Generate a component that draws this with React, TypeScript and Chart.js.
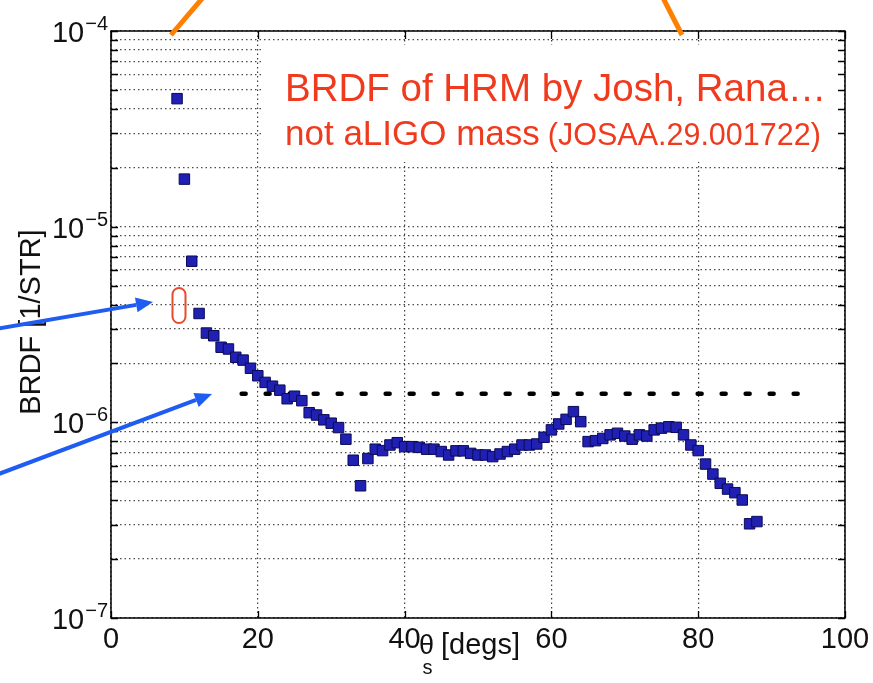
import React, { useEffect, useRef } from "react";
import { Chart, registerables } from "chart.js";

Chart.register(...registerables);

// ---- data ----
const angleDeg: number[] = [
  9, 10, 11, 12, 13, 14, 15, 16, 17, 18, 19, 20, 21, 22, 23, 24, 25, 26, 27, 28,
  29, 30, 31, 32, 33, 34, 35, 36, 37, 38, 39, 40, 41, 42, 43, 44, 45, 46, 47, 48,
  49, 50, 51, 52, 53, 54, 55, 56, 57, 58, 59, 60, 61, 62, 63, 64, 65, 66, 67, 68,
  69, 70, 71, 72, 73, 74, 75, 76, 77, 78, 79, 80, 81, 82, 83, 84, 85, 86, 87, 88,
];
const brdfValues: number[] = [
  4.51e-5, 1.75e-5, 6.66e-6, 3.6e-6, 2.86e-6, 2.77e-6, 2.42e-6, 2.37e-6, 2.15e-6, 2.08e-6,
  1.89e-6, 1.73e-6, 1.6e-6, 1.53e-6, 1.46e-6, 1.32e-6, 1.36e-6, 1.29e-6, 1.12e-6, 1.09e-6,
  1.03e-6, 9.9e-7, 9.4e-7, 8.2e-7, 6.4e-7, 4.74e-7, 6.53e-7, 7.29e-7, 7.17e-7, 7.66e-7,
  7.87e-7, 7.51e-7, 7.51e-7, 7.45e-7, 7.29e-7, 7.29e-7, 7.09e-7, 6.81e-7, 7.15e-7, 7.15e-7,
  6.94e-7, 6.81e-7, 6.81e-7, 6.68e-7, 6.89e-7, 7.09e-7, 7.29e-7, 7.66e-7, 7.66e-7, 7.75e-7,
  8.39e-7, 9.15e-7, 9.81e-7, 1.036e-6, 1.134e-6, 1.008e-6, 7.97e-7, 8.06e-7, 8.27e-7, 8.63e-7,
  8.79e-7, 8.51e-7, 8.2e-7, 8.63e-7, 8.51e-7, 9.15e-7, 9.34e-7, 9.49e-7, 9.43e-7, 8.63e-7,
  7.66e-7, 7.17e-7, 6.12e-7, 5.44e-7, 4.88e-7, 4.56e-7, 4.37e-7, 4.01e-7, 3.03e-7, 3.11e-7,
];
const thresholdX: number[] = [17.8, 94];
const thresholdY = 1.4e-6;

const xTicks: number[] = [0, 20, 40, 60, 80, 100];
const yDecades: number[] = [-7, -6, -5, -4];
const yMinorMult: number[] = [2, 3, 4, 5, 6, 7, 8, 9];

const annotationLine1 = "BRDF of HRM by Josh, Rana\u2026";
const annotationLine2a = "not aLIGO mass";
const annotationLine2b = "(JOSAA.29.001722)";
const yTitle = "BRDF [1/STR]";
const xTitleMain = "\u03b8";
const xTitleSub = "s";
const xTitleRest = "[degs]";

const FONT = "'Liberation Sans', Arial, Helvetica, sans-serif";

const yGridValues: number[] = [];
yDecades.forEach((e) => {
  yGridValues.push(Math.pow(10, e));
  if (e < -4) yMinorMult.forEach((m) => yGridValues.push(m * Math.pow(10, e)));
});

const overlayPlugin = {
  id: "overlay",
  beforeDatasetsDraw(chart: any) {
    const ctx = chart.ctx;
    ctx.save();
    ctx.fillStyle = "#ffffff";
    ctx.fillRect(262, 45, 582, 117);
    ctx.restore();
  },
  afterDraw(chart: any) {
    const ctx: CanvasRenderingContext2D = chart.ctx;
    const { left, right, top, bottom } = chart.chartArea;
    const xs = chart.scales.x;
    const ys = chart.scales.y;
    ctx.save();

    // frame
    ctx.strokeStyle = "#000";
    ctx.lineWidth = 1.5;
    ctx.strokeRect(left, top, right - left, bottom - top);

    // y ticks (inward, both sides)
    ctx.lineWidth = 1.3;
    yGridValues.forEach((v) => {
      const py = Math.round(ys.getPixelForValue(v)) + 0.5;
      ctx.beginPath();
      ctx.moveTo(left, py);
      ctx.lineTo(left + 7, py);
      ctx.moveTo(right, py);
      ctx.lineTo(right - 7, py);
      ctx.stroke();
    });
    // x ticks
    xTicks.forEach((v) => {
      const px = Math.round(xs.getPixelForValue(v)) + 0.5;
      ctx.beginPath();
      ctx.moveTo(px, bottom);
      ctx.lineTo(px, bottom - 7);
      ctx.moveTo(px, top);
      ctx.lineTo(px, top + 8);
      ctx.stroke();
    });

    // x tick labels
    ctx.fillStyle = "#111";
    ctx.font = `29px ${FONT}`;
    ctx.textAlign = "center";
    ctx.textBaseline = "alphabetic";
    xTicks.forEach((v) => {
      const px = xs.getPixelForValue(v);
      ctx.fillText(String(v), px, 648);
    });

    // y tick labels 10^n
    yDecades.forEach((e) => {
      const py = ys.getPixelForValue(Math.pow(10, e));
      ctx.font = `20px ${FONT}`;
      ctx.textAlign = "right";
      const sup = "\u2212" + String(-e);
      const supW = ctx.measureText(sup).width;
      ctx.fillText(sup, 108, py - 1);
      ctx.font = `29px ${FONT}`;
      ctx.fillText("10", 108 - supW - 1, py + 11);
    });

    // axis titles
    ctx.save();
    ctx.translate(40, 322);
    ctx.rotate(-Math.PI / 2);
    ctx.font = `29px ${FONT}`;
    ctx.textAlign = "center";
    ctx.textBaseline = "alphabetic";
    ctx.fillText(yTitle, 0, 0);
    ctx.restore();

    ctx.textAlign = "left";
    ctx.font = `27px ${FONT}`;
    ctx.fillText(xTitleMain, 419, 654);
    const tw = ctx.measureText(xTitleMain).width;
    ctx.font = `20px ${FONT}`;
    ctx.fillText(xTitleSub, 420 + tw / 2 - 5, 674);
    ctx.font = `29px ${FONT}`;
    ctx.fillText(xTitleRest, 441, 654);

    // annotation text
    ctx.fillStyle = "#f03a1e";
    ctx.font = `38.5px ${FONT}`;
    ctx.textAlign = "left";
    ctx.fillText(annotationLine1, 285, 101);
    ctx.font = `35px ${FONT}`;
    ctx.fillText(annotationLine2a, 285, 145);
    const w2 = ctx.measureText(annotationLine2a).width;
    ctx.font = `30.5px ${FONT}`;
    ctx.fillText(annotationLine2b, 285 + w2 + 8, 145);

    // orange lines
    ctx.strokeStyle = "#ff7f00";
    ctx.lineWidth = 5;
    ctx.lineCap = "butt";
    ctx.beginPath();
    ctx.moveTo(171, 35);
    ctx.lineTo(206, -6);
    ctx.moveTo(682, 35);
    ctx.lineTo(661, -6);
    ctx.stroke();

    // red capsule
    ctx.strokeStyle = "#e84a2a";
    ctx.lineWidth = 2;
    ctx.beginPath();
    const cx = 172.5, cy = 288, cw = 13, ch = 35, r = 6.5;
    ctx.moveTo(cx + r, cy);
    ctx.arc(cx + r, cy + r, r, -Math.PI / 2, 0, false);
    ctx.lineTo(cx + cw, cy + ch - r);
    ctx.arc(cx + r, cy + ch - r, r, 0, Math.PI, false);
    ctx.lineTo(cx, cy + r);
    ctx.arc(cx + r, cy + r, r, Math.PI, Math.PI * 1.5, false);
    ctx.stroke();

    // blue arrows
    const arrow = (x0: number, y0: number, x1: number, y1: number) => {
      const ang = Math.atan2(y1 - y0, x1 - x0);
      const hl = 17, hw = 7.5;
      const bx = x1 - hl * Math.cos(ang);
      const by = y1 - hl * Math.sin(ang);
      ctx.strokeStyle = "#1f5cf2";
      ctx.fillStyle = "#1f5cf2";
      ctx.lineWidth = 4;
      ctx.beginPath();
      ctx.moveTo(x0, y0);
      ctx.lineTo(bx, by);
      ctx.stroke();
      ctx.beginPath();
      ctx.moveTo(x1, y1);
      ctx.lineTo(bx + hw * Math.sin(ang), by - hw * Math.cos(ang));
      ctx.lineTo(bx - hw * Math.sin(ang), by + hw * Math.cos(ang));
      ctx.closePath();
      ctx.fill();
    };
    arrow(-4, 329, 153, 302);
    arrow(-4, 475, 212, 394);

    ctx.restore();
  },
};

export default function App() {
  const canvasRef = useRef<HTMLCanvasElement | null>(null);

  useEffect(() => {
    const canvas = canvasRef.current;
    if (!canvas) return;
    const chart = new Chart(canvas, {
      type: "scatter",
      data: {
        datasets: [
          {
            label: "BRDF",
            data: angleDeg.map((x, i) => ({ x, y: brdfValues[i] })),
            pointStyle: "rect",
            pointRadius: 7.4,
            backgroundColor: "#2020b4",
            borderColor: "#0b0b55",
            borderWidth: 1,
            showLine: false,
          },
          {
            type: "line",
            label: "threshold",
            data: thresholdX.map((x) => ({ x, y: thresholdY })),
            borderColor: "#000",
            borderWidth: 4.5,
            borderDash: [4, 20],
            borderCapStyle: "round",
            pointRadius: 0,
            fill: false,
          },
        ] as any,
      },
      options: {
        animation: false,
        responsive: false,
        devicePixelRatio: 1,
        layout: { padding: { top: 31, right: 28, left: 0, bottom: 0 } },
        plugins: { legend: { display: false }, tooltip: { enabled: false }, title: { display: false } },
        scales: {
          x: {
            type: "linear",
            min: 0,
            max: 100,
            ticks: { display: false, stepSize: 20 },
            grid: { color: "rgba(30,30,30,0.85)", lineWidth: 1.2, drawTicks: false, tickLength: 0 },
            border: { display: false, dash: [1.5, 3] },
            afterBuildTicks: (scale: any) => {
              scale.ticks = xTicks.map((v) => ({ value: v }));
            },
            afterFit: (scale: any) => {
              scale.height = 65;
            },
          },
          y: {
            type: "logarithmic",
            min: 1e-7,
            max: 1e-4,
            ticks: { display: false },
            grid: { color: "rgba(30,30,30,0.8)", lineWidth: 1.2, drawTicks: false, tickLength: 0 },
            border: { display: false, dash: [1.5, 3] },
            afterBuildTicks: (scale: any) => {
              scale.ticks = yGridValues.map((v) => ({ value: v }));
            },
            afterFit: (scale: any) => {
              scale.width = 111;
            },
          },
        },
      } as any,
      plugins: [overlayPlugin],
    });
    return () => chart.destroy();
  }, []);

  return (
    <div style={{ position: "fixed", left: 0, top: 0, width: 873, height: 683, background: "#fff" }}>
      <canvas ref={canvasRef} width={873} height={683} style={{ display: "block", width: 873, height: 683 }} />
    </div>
  );
}
